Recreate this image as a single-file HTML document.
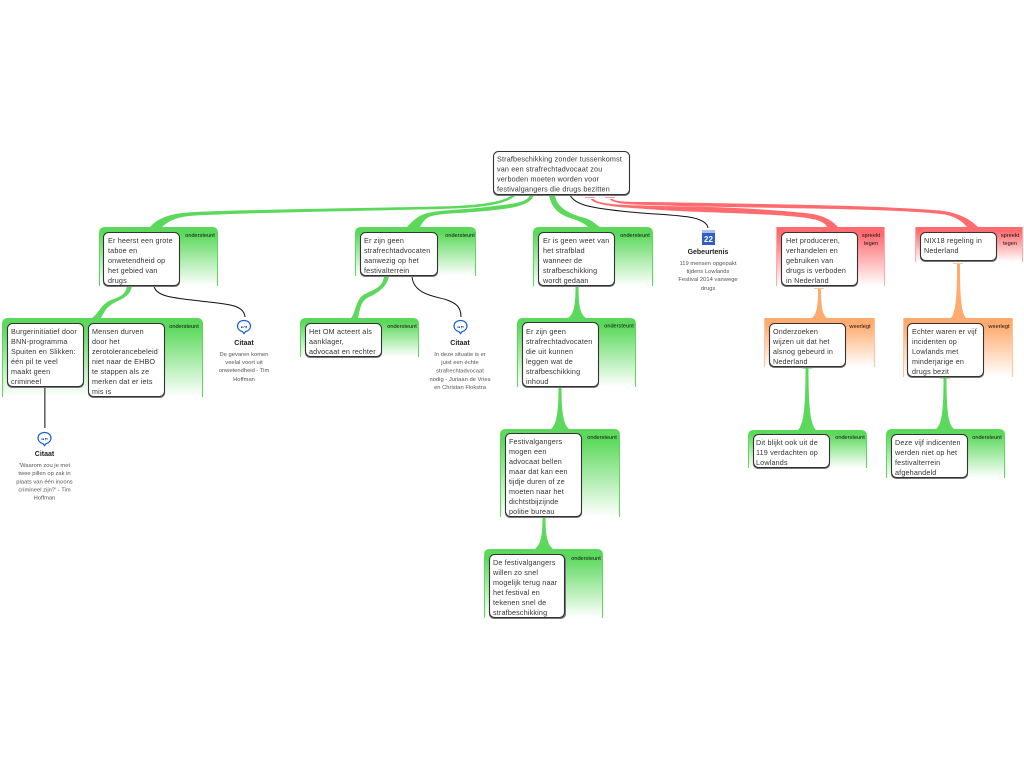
<!DOCTYPE html>
<html><head><meta charset="utf-8"><style>
html,body{margin:0;padding:0;background:#fff;width:1024px;height:768px;overflow:hidden}
svg{display:block;font-family:"Liberation Sans",sans-serif}
.n{fill:#fff;stroke:#333;stroke-width:1.1}
.s{fill:#777}
.t{font-size:7.2px;fill:#333;letter-spacing:.17px}
.l{font-size:5.6px;fill:#111;text-anchor:middle}
.c{font-size:5.8px;fill:#555;text-anchor:middle}
.h{font-size:7px;font-weight:bold;fill:#222;text-anchor:middle}
.b{fill:none;stroke:#111;stroke-width:1}
.g{fill:#5cd95c}.r{fill:#ff6b6f}.o{fill:#ffaa6e}
</style></head><body>
<svg width="1024" height="768" viewBox="0 0 1024 768" xmlns="http://www.w3.org/2000/svg">
<defs>
<linearGradient id="gg" x1="0" y1="0" x2="0" y2="1"><stop offset="0" stop-color="#5cd95c"/><stop offset=".12" stop-color="#5cd95c"/><stop offset="1" stop-color="#fff"/></linearGradient>
<linearGradient id="gr" x1="0" y1="0" x2="0" y2="1"><stop offset="0" stop-color="#ff6b6f"/><stop offset=".12" stop-color="#ff6b6f"/><stop offset="1" stop-color="#fff"/></linearGradient>
<linearGradient id="go" x1="0" y1="0" x2="0" y2="1"><stop offset="0" stop-color="#ffaa6e"/><stop offset=".12" stop-color="#ffaa6e"/><stop offset="1" stop-color="#fff"/></linearGradient>
</defs>

<!-- panels -->
<g fill="url(#gg)">
<path d="M99,286V233q0-6 6-6H212q6,0 6,6V286z"/>
<path d="M2,397V324q0-6 6-6H197q6,0 6,6V397z"/>
<path d="M355,276V233q0-6 6-6H470q6,0 6,6V276z"/>
<path d="M300,357V324q0-6 6-6H413q6,0 6,6V357z"/>
<path d="M533,286V233q0-6 6-6H647q6,0 6,6V286z"/>
<path d="M517,387V324q0-6 6-6H630q6,0 6,6V387z"/>
<path d="M500,517V435q0-6 6-6H614q6,0 6,6V517z"/>
<path d="M484,618V555q0-6 6-6H597q6,0 6,6V618z"/>
<path d="M748,468V436q0-6 6-6H861q6,0 6,6V468z"/>
<path d="M886,478V435q0-6 6-6H999q6,0 6,6V478z"/>
</g>
<g fill="#5cd95c">
<rect x="99" y="233" width="1" height="53"/><rect x="217" y="233" width="1" height="53"/>
<rect x="2" y="324" width="1" height="73"/><rect x="202" y="324" width="1" height="73"/>
<rect x="355" y="233" width="1" height="43"/><rect x="475" y="233" width="1" height="43"/>
<rect x="300" y="324" width="1" height="33"/><rect x="418" y="324" width="1" height="33"/>
<rect x="533" y="233" width="1" height="53"/><rect x="652" y="233" width="1" height="53"/>
<rect x="517" y="324" width="1" height="63"/><rect x="635" y="324" width="1" height="63"/>
<rect x="500" y="435" width="1" height="82"/><rect x="619" y="435" width="1" height="82"/>
<rect x="484" y="555" width="1" height="63"/><rect x="602" y="555" width="1" height="63"/>
<rect x="748" y="436" width="1" height="32"/><rect x="866" y="436" width="1" height="32"/>
<rect x="886" y="435" width="1" height="43"/><rect x="1004" y="435" width="1" height="43"/>
</g>
<rect x="776" y="227" width="109" height="59" fill="url(#gr)"/>
<rect x="915" y="227" width="108" height="35" fill="url(#gr)"/>
<rect x="764" y="318" width="111" height="49" fill="url(#go)"/>
<rect x="903" y="318" width="110" height="59" fill="url(#go)"/>
<g fill="#ffa9a9"><rect x="776" y="227" width="1" height="59"/><rect x="884" y="227" width="1" height="59"/><rect x="915" y="227" width="1" height="35"/><rect x="1022" y="227" width="1" height="35"/></g>
<g fill="#ffc49a"><rect x="764" y="318" width="1" height="49"/><rect x="874" y="318" width="1" height="49"/><rect x="903" y="318" width="1" height="59"/><rect x="1012" y="318" width="1" height="59"/></g>

<!-- green connectors -->
<g class="g">
<path d="M150,227C158,218 170,213 195,212C280,208.500 400,207.800 455,206C485,204.500 505,201 512,195H516C508,203.500 485,207.500 455,208.500C400,210.500 280,211.500 195,215.500C178,216.500 170,220 162,227Z"/>
<path d="M534,195C530,205.500 515,208.500 480,211.500C455,213.500 440,213.500 430,216.500C425,218.500 422,223 420,227H407C412,222 418,214.500 430,212.500C445,209.500 470,209.500 490,206.500C515,203.500 527,202.500 530,195Z"/>
<path d="M549,195H555C556,205 565,213 585,218C592,220 595,224 600,227H588C585,224 580,221 570,218C558,214 551,207 549,195Z"/>
<path d="M127,286H132C130,297 121,299 114,303C106,307 104,313 101,318H92C98,314 101,305 109,301C117,297 125,297 127,286Z"/>
<path d="M384,276H389C387,287 378,293 369,297C360,301 360,311 358,318H351C356,313 355,299 365,294C375,289 383,287 384,276Z"/>
<path d="M575.500,286H578.500C578.500,305 580,314 586,318H568C574,314 575.500,305 575.500,286Z"/>
<path d="M558.500,387H561.500C561.500,410 563,424 569,429H551C557,424 558.500,410 558.500,387Z"/>
<path d="M542.500,517H545.500C545.500,535 547,544 553,549H535C541,544 542.500,535 542.500,517Z"/>
<path d="M805.500,367H808.500C808.500,405 810,424 816,430H798C804,424 805.500,405 805.500,367Z"/>
<path d="M943.500,377H946.500C946.500,410 948,424 954,429H936C942,424 943.500,410 943.500,377Z"/>
<rect x="802" y="367" width="10" height="1.500"/><rect x="940" y="377" width="10" height="1.500"/>
</g>

<!-- red connectors -->
<g class="r">
<path d="M590.500,199C596,206.500 625,207.500 660,210C720,213.500 790,213.500 815,219.500C822,221.500 826,224 827,227H838C832,220 822,214.500 805,213C750,207.500 700,206.500 660,206C625,205 600,205 593.500,199Z"/>
<path d="M609.500,199C615,205.500 640,204.500 680,206C780,208.500 900,208.500 945,214.500C955,216.500 962,221 967,227H978C970,219 958,212.500 940,210.500C880,205.500 780,204.500 680,202.500C640,201.500 618,203 612.500,199Z"/>
</g>
<g fill="#ff9a9a"><rect x="585" y="197" width="10" height="1"/><rect x="605" y="197" width="10" height="1"/></g>

<!-- orange connectors -->
<g class="o">
<path d="M818,289H821C821,305 822,314 827,318H812C817,314 818,305 818,289Z"/>
<path d="M957,264H960C960,295 961,312 966,318H951C956,312 957,295 957,264Z"/>
</g>
<g fill="#ffc49a"><rect x="814" y="288" width="10" height="1"/><rect x="953" y="263" width="10" height="1"/></g>

<!-- black connectors -->
<path class="b" d="M570,195C575,205 590,208 630,212C670,216 706,214 708,228"/>
<path class="b" d="M154,286C156,297 175,298 200,301C225,304 244,304 245,317"/>
<path class="b" d="M412,276C413,296 440,297 447,300C455,303 461,306 461,317"/>
<rect x="44" y="387" width="1.600" height="41" fill="#666"/>

<!-- nodes -->
<g>
<rect class="s" x="493" y="152" width="137" height="44" rx="5"/><rect class="n" x="493.500" y="151.500" width="136" height="43" rx="5"/>
<rect class="s" x="103" y="233" width="77" height="54" rx="5"/><rect class="n" x="103.500" y="232.500" width="76" height="53" rx="5"/>
<rect class="s" x="7" y="324" width="77" height="64" rx="5"/><rect class="n" x="7.500" y="323.500" width="76" height="63" rx="5"/>
<rect class="s" x="88" y="324" width="77" height="74" rx="5"/><rect class="n" x="88.500" y="323.500" width="76" height="73" rx="5"/>
<rect class="s" x="360" y="233" width="78" height="44" rx="5"/><rect class="n" x="360.500" y="232.500" width="77" height="43" rx="5"/>
<rect class="s" x="305" y="324" width="77" height="34" rx="5"/><rect class="n" x="305.500" y="323.500" width="76" height="33" rx="5"/>
<rect class="s" x="538" y="233" width="77" height="54" rx="5"/><rect class="n" x="538.500" y="232.500" width="76" height="53" rx="5"/>
<rect class="s" x="522" y="323" width="77" height="65" rx="5"/><rect class="n" x="522.500" y="322.500" width="76" height="64" rx="5"/>
<rect class="s" x="505" y="434" width="77" height="84" rx="5"/><rect class="n" x="505.500" y="433.500" width="76" height="83" rx="5"/>
<rect class="s" x="489" y="555" width="77" height="64" rx="5"/><rect class="n" x="489.500" y="554.500" width="75" height="63" rx="5"/>
<rect class="s" x="781" y="233" width="77" height="54" rx="5"/><rect class="n" x="781.500" y="232.500" width="76" height="53" rx="5"/>
<rect class="s" x="920" y="233" width="77" height="29" rx="5"/><rect class="n" x="920.500" y="232.500" width="76" height="28" rx="5"/>
<rect class="s" x="769" y="324" width="77" height="44" rx="5"/><rect class="n" x="769.500" y="323.500" width="76" height="43" rx="5"/>
<rect class="s" x="907" y="324" width="77" height="54" rx="5"/><rect class="n" x="907.500" y="323.500" width="76" height="53" rx="5"/>
<rect class="s" x="753" y="435" width="77" height="34" rx="5"/><rect class="n" x="753.500" y="434.500" width="76" height="33" rx="5"/>
<rect class="s" x="891" y="435" width="77" height="44" rx="5"/><rect class="n" x="891.500" y="434.500" width="76" height="43" rx="5"/>
</g>

<!-- node text -->
<g class="t">
<text x="497" y="161.500">Strafbeschikking zonder tussenkomst</text>
<text x="497" y="171.500">van een strafrechtadvocaat zou</text>
<text x="497" y="181.500">verboden moeten worden voor</text>
<text x="497" y="191.500">festivalgangers die drugs bezitten</text>

<text x="108" y="243">Er heerst een grote</text><text x="108" y="253">taboe en</text><text x="108" y="263">onwetendheid op</text><text x="108" y="273">het gebied van</text><text x="108" y="283">drugs</text>

<text x="11" y="334">Burgerinitiatief door</text><text x="11" y="344">BNN-programma</text><text x="11" y="354">Spuiten en Slikken:</text><text x="11" y="364">één pil te veel</text><text x="11" y="374">maakt geen</text><text x="11" y="384">crimineel</text>

<text x="92" y="334">Mensen durven</text><text x="92" y="344">door het</text><text x="92" y="354">zerotolerancebeleid</text><text x="92" y="364">niet naar de EHBO</text><text x="92" y="374">te stappen als ze</text><text x="92" y="384">merken dat er iets</text><text x="92" y="394">mis is</text>

<text x="364" y="243">Er zijn geen</text><text x="364" y="253">strafrechtadvocaten</text><text x="364" y="263">aanwezig op het</text><text x="364" y="273">festivalterrein</text>

<text x="309" y="334">Het OM acteert als</text><text x="309" y="344">aanklager,</text><text x="309" y="354">advocaat en rechter</text>

<text x="543" y="243">Er is geen weet van</text><text x="543" y="253">het strafblad</text><text x="543" y="263">wanneer de</text><text x="543" y="273">strafbeschikking</text><text x="543" y="283">wordt gedaan</text>

<text x="526" y="334">Er zijn geen</text><text x="526" y="344">strafrechtadvocaten</text><text x="526" y="354">die uit kunnen</text><text x="526" y="364">leggen wat de</text><text x="526" y="374">strafbeschikking</text><text x="526" y="384">inhoud</text>

<text x="509" y="444">Festivalgangers</text><text x="509" y="454">mogen een</text><text x="509" y="464">advocaat bellen</text><text x="509" y="474">maar dat kan een</text><text x="509" y="484">tijdje duren of ze</text><text x="509" y="494">moeten naar het</text><text x="509" y="504">dichtstbijzijnde</text><text x="509" y="514">politie bureau</text>

<text x="493" y="565">De festivalgangers</text><text x="493" y="575">willen zo snel</text><text x="493" y="585">mogelijk terug naar</text><text x="493" y="595">het festival en</text><text x="493" y="605">tekenen snel de</text><text x="493" y="615">strafbeschikking</text>

<text x="786" y="243">Het produceren,</text><text x="786" y="253">verhandelen en</text><text x="786" y="263">gebruiken van</text><text x="786" y="273">drugs is verboden</text><text x="786" y="283">in Nederland</text>

<text x="924" y="243">NIX18 regeling in</text><text x="924" y="253">Nederland</text>

<text x="773" y="334">Onderzoeken</text><text x="773" y="344">wijzen uit dat het</text><text x="773" y="354">alsnog gebeurd in</text><text x="773" y="364">Nederland</text>

<text x="912" y="334">Echter waren er vijf</text><text x="912" y="344">incidenten op</text><text x="912" y="354">Lowlands met</text><text x="912" y="364">minderjarige en</text><text x="912" y="374">drugs bezit</text>

<text x="756" y="445">Dit blijkt ook uit de</text><text x="756" y="455">119 verdachten op</text><text x="756" y="465">Lowlands</text>

<text x="895" y="445">Deze vijf indicenten</text><text x="895" y="455">werden niet op het</text><text x="895" y="465">festivalterrein</text><text x="895" y="475">afgehandeld</text>
</g>

<!-- relation labels -->
<g class="l">
<text x="200" y="237">ondersteunt</text>
<text x="184" y="328">ondersteunt</text>
<text x="460" y="237">ondersteunt</text>
<text x="402" y="328">ondersteunt</text>
<text x="635" y="237">ondersteunt</text>
<text x="619" y="327.500">ondersteunt</text>
<text x="602" y="439">ondersteunt</text>
<text x="586" y="560">ondersteunt</text>
<text x="850" y="439">ondersteunt</text>
<text x="987" y="439">ondersteunt</text>
<text x="871" y="237">spreekt</text><text x="871" y="245">tegen</text>
<text x="1010" y="237">spreekt</text><text x="1010" y="245">tegen</text>
<text x="860" y="328">weerlegt</text>
<text x="999" y="328">weerlegt</text>
</g>

<!-- icons -->
<g fill="#fff" stroke="#1a5fd0" stroke-width="1.200">
<path d="M244,320.500c4,0 6.500,2.600 6.500,5.500s-2.500,5.300-5,5.600l-1.500,2-1.500-2c-2.500-.3-5-2.700-5-5.600s2.500-5.500 6.500-5.500z"/>
<path d="M460.500,320.500c4,0 6.500,2.600 6.500,5.500s-2.500,5.300-5,5.600l-1.500,2-1.500-2c-2.500-.3-5-2.700-5-5.600s2.500-5.500 6.500-5.500z"/>
<path d="M44.500,432.500c4,0 6.500,2.600 6.500,5.500s-2.500,5.300-5,5.600l-1.500,2-1.500-2c-2.500-.3-5-2.700-5-5.600s2.500-5.500 6.500-5.500z"/>
</g>
<g font-size="7" font-weight="bold" fill="#1a4fa0" text-anchor="middle">
<text x="244" y="331">“”</text><text x="460.500" y="331">“”</text><text x="44.500" y="443">“”</text>
</g>
<rect x="702" y="230" width="13" height="15" fill="#2f5fc4"/>
<rect x="702" y="230" width="13" height="3" fill="#a9c0ea"/>
<text x="708.500" y="242" font-size="8" font-weight="bold" fill="#fff" text-anchor="middle">22</text>

<!-- topic labels and descriptions -->
<text class="h" x="244" y="345">Citaat</text>
<g class="c"><text x="244" y="356">De gevaren komen</text><text x="244" y="364">veelal voort uit</text><text x="244" y="372">onwetendheid - Tim</text><text x="244" y="381">Hoffman</text></g>

<text class="h" x="460" y="345">Citaat</text>
<g class="c"><text x="460" y="356">In deze situatie is er</text><text x="460" y="364">juist een échte</text><text x="460" y="372.500">strafrechtadvocaat</text><text x="460" y="381">nodig - Juriaan de Vries</text><text x="460" y="389">en Christan Flokstra</text></g>

<text class="h" x="44.500" y="456">Citaat</text>
<g class="c"><text x="44.500" y="467">'Waarom zou je met</text><text x="44.500" y="475">twee pillen op zak in</text><text x="44.500" y="483.500">plaats van één inoons</text><text x="44.500" y="491.500">crimineel zijn?' - Tim</text><text x="44.500" y="499.500">Hoffman</text></g>

<text class="h" x="708" y="254">Gebeurtenis</text>
<g class="c"><text x="708" y="265">119 mensen opgepakt</text><text x="708" y="273">tijdens Lowlands</text><text x="708" y="281">Festival 2014 vanwege</text><text x="708" y="290">drugs</text></g>
</svg>
</body></html>
